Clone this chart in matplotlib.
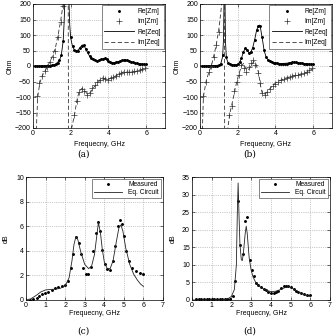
import numpy as np
import matplotlib
matplotlib.use("Agg")
import matplotlib.pyplot as plt

# ---------------- data ----------------
# Panel (a)
f_re_a = np.round(np.arange(0.1, 6.01, 0.1), 2)
re_zm_a = [0, 0, 0, 0, 0, 0.5, 1, 1, 1.5, 2,
           3, 5, 10, 18, 35, 80, 230, 480, 220, 92,
           63, 52, 48, 50, 58, 66, 67, 56, 44, 33,
           26, 21, 18, 17, 19, 21, 24, 25, 21, 16,
           13, 11, 11, 12, 14, 16, 18, 20, 20, 18,
           16, 14, 12, 10, 9, 8, 7, 6, 5, 5]
f_req_a = [0, 0.5, 1.0, 1.2, 1.4, 1.5, 1.6, 1.65, 1.7, 1.75, 1.8, 1.85, 1.9, 1.95, 2.0,
           2.1, 2.2, 2.3, 2.4, 2.5, 2.6, 2.65, 2.7, 2.8, 2.9, 3.0, 3.2, 3.4, 3.6, 3.75,
           3.85, 4.0, 4.2, 4.4, 4.6, 4.8, 5.0, 5.2, 5.5, 5.8, 6.0]
re_zeq_a = [0, 0.5, 2, 6, 18, 35, 80, 140, 230, 400, 500, 400, 220, 130, 90,
            62, 52, 49, 52, 60, 67, 68, 66, 55, 42, 32, 20, 17, 20, 25,
            22, 15, 11, 12, 16, 19, 17, 13, 9, 6, 5]
f_im_a = [0.2, 0.34, 0.48, 0.62, 0.76, 0.9, 1.04, 1.18, 1.32, 1.46, 1.6,
          2.2, 2.33, 2.45, 2.58, 2.72, 2.86, 3.0, 3.14, 3.28, 3.42,
          3.56, 3.7, 3.84, 3.98, 4.12, 4.26, 4.4, 4.54, 4.68, 4.82,
          4.96, 5.1, 5.24, 5.38, 5.52, 5.66, 5.8, 5.94]
im_zm_a = [-98, -56, -32, -16, -2, 12, 28, 50, 95, 143, 195,
           -158, -112, -85, -74, -80, -92, -86, -72, -62, -52,
           -44, -38, -42, -44, -40, -35, -31, -27, -23, -19,
           -18, -20, -19, -17, -16, -14, -11, -6]
f_imeq_a = [0.12, 0.18, 0.25, 0.36, 0.5, 0.65, 0.78, 0.95, 1.08, 1.2,
            1.33, 1.46, 1.6, 1.7, 1.85, 1.9, 1.97, 2.05, 2.2, 2.33,
            2.45, 2.6, 2.75, 2.9, 3.05, 3.2, 3.4, 3.55, 3.7, 3.85,
            3.95, 4.1, 4.35, 4.6, 4.85, 5.1, 5.4, 5.7, 6.0]
im_zeq_a = [-400, -200, -100, -55, -30, -15, 0, 20, 40, 62,
            100, 143, 200, 300, 800, -800, -300, -200, -158, -110,
            -82, -72, -80, -92, -85, -70, -58, -45, -38, -42,
            -45, -40, -33, -25, -18, -20, -18, -13, -5]

# Panel (b)
f_re_b = np.round(np.arange(0.1, 6.01, 0.1), 2)
re_zm_b = [0, 0, 0, 0, 0, 0, 0.5, 1, 1.5, 2.5,
           8, 36, 300, 30, 10, 5, 4, 3, 4, 6,
           12, 25, 45, 57, 52, 42, 44, 58, 85, 115,
           130, 128, 95, 52, 30, 20, 16, 13, 11, 10,
           9, 8, 8, 7, 7, 8, 9, 11, 12, 13,
           12, 11, 10, 9, 8, 7, 7, 6, 5, 5]
f_req_b = [0, 0.5, 1.0, 1.1, 1.2, 1.25, 1.28, 1.3, 1.32, 1.35, 1.4, 1.5, 1.7, 1.9, 2.0,
           2.1, 2.2, 2.3, 2.4, 2.5, 2.6, 2.7, 2.8, 2.9, 3.0, 3.1, 3.15, 3.2, 3.3, 3.4,
           3.5, 3.6, 3.8, 4.0, 4.3, 4.6, 4.9, 5.1, 5.3, 5.6, 5.8, 6.0]
re_zeq_b = [0, 0.5, 2.5, 7, 30, 90, 250, 400, 250, 80, 25, 9, 4, 4, 6,
            12, 25, 45, 57, 52, 42, 45, 60, 85, 115, 130, 132, 125, 90, 50,
            30, 20, 13, 10, 8, 9, 12, 12, 10, 8, 6, 5]
f_im_b = [0.18, 0.32, 0.46, 0.6, 0.73, 0.87, 1.0, 1.14,
          1.55, 1.7, 1.82, 1.95, 2.07, 2.2, 2.33, 2.46, 2.58, 2.7,
          2.82, 2.94, 3.06, 3.18, 3.3, 3.43, 3.56, 3.7, 3.85, 4.0,
          4.15, 4.3, 4.45, 4.6, 4.75, 4.9, 5.05, 5.2, 5.35, 5.5,
          5.65, 5.8, 5.95]
im_zm_b = [-98, -50, -20, 0, 30, 68, 110, 230,
           -157, -128, -80, -50, -28, 2, -6, -18, -4, 10,
           18, 4, -22, -55, -88, -93, -85, -75, -65, -57,
           -50, -45, -41, -38, -35, -32, -30, -28, -25, -22,
           -18, -12, -7]
f_imeq_b = [0.1, 0.13, 0.18, 0.32, 0.48, 0.6, 0.72, 0.86, 0.98, 1.08,
            1.15, 1.22, 1.28, 1.32, 1.4, 1.48, 1.57, 1.75, 1.95, 2.05,
            2.2, 2.3, 2.4, 2.5, 2.6, 2.75, 2.85, 2.95, 3.1, 3.2,
            3.3, 3.4, 3.55, 3.75, 4.0, 4.4, 4.8, 5.2, 5.6, 6.0]
im_zeq_b = [-400, -200, -100, -50, -18, 0, 30, 68, 110, 160,
            200, 300, 600, -600, -300, -200, -157, -107, -50, -28,
            0, 8, -5, -15, -10, 5, 15, 10, -20, -60,
            -88, -93, -85, -70, -55, -42, -34, -28, -22, -8]

# Panel (c)
f_meas_c = [0.2, 0.37, 0.54, 0.68, 0.8, 0.97, 1.14, 1.31, 1.48, 1.65,
            1.82, 1.99, 2.16, 2.29, 2.41, 2.55, 2.7, 2.8, 2.92, 3.06,
            3.18, 3.3, 3.43, 3.6, 3.69, 3.77, 3.89, 4.03, 4.15, 4.28,
            4.42, 4.54, 4.71, 4.79, 4.88, 5.0, 5.13, 5.27, 5.44, 5.64,
            5.81, 5.98]
meas_c = [0, 0.1, 0.2, 0.3, 0.46, 0.57, 0.68, 0.79, 0.95, 1.06,
          1.14, 1.22, 1.55, 2.63, 3.7, 5.15, 4.66, 3.7, 2.57, 2.14,
          2.09, 2.68, 3.98, 5.47, 6.34, 5.6, 4.07, 2.95, 2.49, 2.41,
          3.17, 4.39, 6.0, 6.48, 6.15, 5.2, 3.98, 3.17, 2.63, 2.36,
          2.22, 2.09]
f_eq_c = [0, 0.25, 0.5, 0.75, 1.0, 1.25, 1.5, 1.75, 2.0, 2.2,
          2.35, 2.45, 2.55, 2.65, 2.8, 3.0, 3.2, 3.35, 3.5, 3.6,
          3.7, 3.8, 3.9, 4.0, 4.15, 4.3, 4.45, 4.6, 4.75, 4.85,
          4.95, 5.1, 5.3, 5.5, 5.7, 5.85, 6.0]
eq_c = [0, 0.1, 0.35, 0.65, 0.82, 0.86, 0.88, 0.95, 1.15, 1.8,
        3.2, 4.5, 5.15, 4.9, 3.9, 2.9, 2.55, 2.75, 3.7, 5.0,
        6.3, 5.5, 4.1, 3.1, 2.55, 2.55, 3.2, 4.6, 5.9, 6.1,
        5.6, 4.2, 2.9, 2.1, 1.6, 1.3, 1.1]

# Panel (d)
f_meas_d = [0.2, 0.33, 0.47, 0.6, 0.74, 0.87, 1.0, 1.13, 1.27, 1.4,
            1.53, 1.67, 1.8, 1.93, 2.07, 2.19, 2.33, 2.46, 2.58, 2.7,
            2.8, 2.92, 3.04, 3.14, 3.25, 3.37, 3.5, 3.64, 3.76, 3.88,
            4.01, 4.15, 4.27, 4.38, 4.52, 4.65, 4.77, 4.89, 5.03, 5.16,
            5.28, 5.4, 5.53, 5.7, 5.83, 6.0]
meas_d = [0.2, 0.2, 0.3, 0.3, 0.3, 0.3, 0.3, 0.3, 0.3, 0.3,
          0.3, 0.3, 0.3, 0.4, 1.0, 5.5, 28.2, 15.6, 13.1, 22.5,
          23.7, 11.5, 8.5, 6.8, 4.9, 4.2, 3.6, 3.1, 2.8, 2.3,
          2.1, 2.0, 2.3, 2.7, 3.4, 3.9, 3.9, 4.0, 3.7, 3.1,
          2.7, 2.3, 2.0, 1.7, 1.5, 1.4]
f_eq_d = [0, 1.0, 1.6, 1.8, 2.0, 2.15, 2.25, 2.3, 2.34, 2.38,
          2.43, 2.5, 2.55, 2.6, 2.7, 2.75, 2.8, 2.9, 3.0, 3.1,
          3.25, 3.5, 3.75, 4.0, 4.25, 4.5, 4.75, 4.9, 5.0, 5.25,
          5.5, 5.75, 6.0]
eq_d = [0, 0, 0.05, 0.3, 1.0, 3, 10, 25, 33.3, 25,
        16, 11.5, 11.2, 13, 19, 21, 19, 12, 8.5, 6.5,
        4.8, 3.5, 2.8, 2.4, 2.5, 3.0, 3.6, 3.8, 3.6, 2.8,
        2.0, 1.4, 1.0]

xlabel_txt = "Frequecny, GHz"
captions = ["(a)", "(b)", "(c)", "(d)"]

# ---------------- figure ----------------
W, H = 335, 336
plt.rcParams['font.family'] = ['Liberation Sans', 'DejaVu Sans']
fig = plt.figure(figsize=(W / 100, H / 100), dpi=100)

def rect(x0, y0, x1, y1):
    return [x0 / W, 1 - y1 / H, (x1 - x0) / W, (y1 - y0) / H]

TFS = 5
LFS = 5
def style(ax):
    ax.grid(True, linestyle=':', color='#999999', linewidth=0.5)
    ax.tick_params(direction='in', length=2, width=0.4, labelsize=TFS, pad=1.5,
                   top=True, right=True)
    for s in ax.spines.values():
        s.set_linewidth(0.5)
    ax.set_axisbelow(True)

dot_kw = dict(linestyle='none', marker='.', markersize=2.2, color='black')
plus_kw = dict(linestyle='none', marker='+', markersize=4.5, markeredgewidth=0.5, color='#333333')
solid_kw = dict(color='black', linewidth=0.6)
dash_kw = dict(color='#333333', linewidth=0.6, linestyle=(0, (5, 3)))

def imp_panel(ax, fre, re, freq, req, fim, im, fimeq, imeq, ylx):
    ax.plot(fre, re, label='Re[Zm]', **dot_kw)
    ax.plot(fim, im, label='Im[Zm]', **plus_kw)
    ax.plot(freq, req, label='Re[Zeq]', **solid_kw)
    ax.plot(fimeq, imeq, label='Im[Zeq]', **dash_kw)
    ax.set_xlim(0, 7)
    ax.set_ylim(-200, 200)
    ax.set_xticks([0, 2, 4, 6])
    ax.set_yticks(np.arange(-200, 201, 50))
    ax.set_xlabel(xlabel_txt, fontsize=LFS)
    ax.set_ylabel('Ohm', fontsize=LFS)
    ax.xaxis.set_label_coords(0.5, -(145 - 128) / 124)
    ax.yaxis.set_label_coords(ylx, 0.5)
    ax.xaxis.label.set_va('center')
    ax.yaxis.label.set_va('center')
    style(ax)
    leg = ax.legend(loc='upper right', fontsize=4.8, handlelength=4.5, handletextpad=0.45,
                    labelspacing=0.5, borderpad=0.4, borderaxespad=0.2,
                    fancybox=False, edgecolor='#555555', framealpha=1)
    leg.get_frame().set_linewidth(0.5)

def db_panel(ax, fm, m, fe, e, ymax, ystep, ylx):
    ax.plot(fm, m, label='Measured', **dot_kw)
    ax.plot(fe, e, label='Eq. Circuit', color='#222222', linewidth=0.6)
    ax.set_xlim(0, 7)
    ax.set_ylim(0, ymax)
    ax.set_xticks(np.arange(0, 8, 1))
    ax.set_yticks(np.arange(0, ymax + 0.1, ystep))
    ax.set_xlabel(xlabel_txt, fontsize=LFS)
    ax.set_ylabel('dB', fontsize=LFS)
    ax.xaxis.set_label_coords(0.5, -(313.7 - 300) / 123)
    ax.yaxis.set_label_coords(ylx, 0.5)
    ax.xaxis.label.set_va('center')
    ax.yaxis.label.set_va('center')
    style(ax)
    leg = ax.legend(loc='upper right', fontsize=4.8, handlelength=4.3, handletextpad=0.9,
                    labelspacing=0.2, borderpad=0.3, borderaxespad=0.3,
                    fancybox=False, edgecolor='#555555', framealpha=1)
    leg.get_frame().set_linewidth(0.5)

axa = fig.add_axes(rect(33, 4, 165, 128))
imp_panel(axa, f_re_a, re_zm_a, f_req_a, re_zeq_a, f_im_a, im_zm_a, f_imeq_a, im_zeq_a,
          (10 - 33) / 132)
axb = fig.add_axes(rect(200, 4, 332, 128))
imp_panel(axb, f_re_b, re_zm_b, f_req_b, re_zeq_b, f_im_b, im_zm_b, f_imeq_b, im_zeq_b,
          (177 - 200) / 132)
axc = fig.add_axes(rect(26, 177, 163, 300))
db_panel(axc, f_meas_c, meas_c, f_eq_c, eq_c, 10, 2, (6 - 26) / 137)
axd = fig.add_axes(rect(192, 177, 330, 300))
db_panel(axd, f_meas_d, meas_d, f_eq_d, eq_d, 35, 5, (173 - 192) / 138)

cap_pos = [(83, 154), (250, 154), (83, 331), (250, 331)]
for txt, (x, y) in zip(captions, cap_pos):
    fig.text(x / W, 1 - y / H, txt, ha='center', va='center', fontsize=6.5,
             family=['DejaVu Serif'])

fig.savefig('out.png', dpi=100)
